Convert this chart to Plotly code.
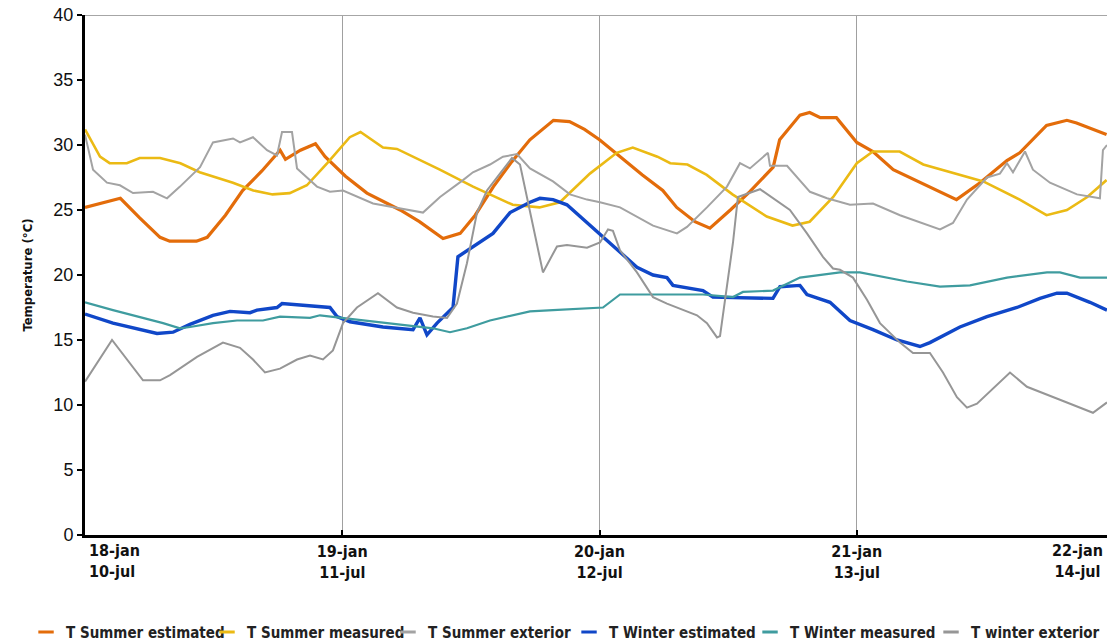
import plotly.graph_objects as go

# ---- data (hours since 18-jan / 10-jul 00:00, temperature in °C) ----
h_sum_est = [0, 1.4, 3.3, 5.1, 7.0, 7.9, 10.4, 11.4, 13.1, 14.7, 16.5, 18.2, 18.7, 20.1, 21.5,
             22.4, 24.3, 26.3, 29.4, 31.2, 33.4, 35.0, 36.4, 38.1, 39.8, 41.5, 43.7, 45.2, 46.6,
             48.0, 49.9, 52.0, 53.9, 55.2, 56.9, 58.3, 60.2, 62.0, 64.2, 64.8, 66.7, 67.6, 68.6,
             70.1, 72.0, 73.5, 75.4, 77.9, 79.8, 81.3, 83.5, 86.0, 87.2, 89.7, 91.6, 92.5, 95.3]
t_sum_est = [25.2, 25.5, 25.9, 24.4, 22.9, 22.6, 22.6, 22.9, 24.6, 26.5, 28.0, 29.6, 28.9, 29.6, 30.1,
             29.1, 27.6, 26.3, 25.0, 24.1, 22.8, 23.2, 24.6, 26.8, 28.7, 30.4, 31.9, 31.8, 31.2,
             30.4, 29.1, 27.7, 26.5, 25.2, 24.1, 23.6, 25.0, 26.4, 28.3, 30.4, 32.3, 32.5, 32.1,
             32.1, 30.2, 29.5, 28.1, 27.1, 26.4, 25.8, 27.1, 28.8, 29.4, 31.5, 31.9, 31.7, 30.8]

h_sum_meas = [0, 1.4, 2.3, 3.9, 5.1, 7.0, 8.9, 10.7, 13.8, 15.7, 17.5, 19.1, 20.7, 22.6, 24.7,
              25.7, 27.8, 29.1, 33.1, 36.2, 39.9, 42.4, 44.3, 47.1, 49.6, 51.1, 53.4, 54.6, 56.2,
              58.0, 60.4, 63.6, 66.0, 67.6, 69.8, 72.0, 73.5, 76.0, 78.2, 83.8, 87.2, 89.7, 91.6,
              93.5, 95.3]
t_sum_meas = [31.2, 29.1, 28.6, 28.6, 29.0, 29.0, 28.6, 27.9, 27.1, 26.5, 26.2, 26.3, 26.9, 28.6, 30.6,
              31.0, 29.8, 29.7, 28.1, 26.8, 25.4, 25.2, 25.6, 27.8, 29.4, 29.8, 29.1, 28.6, 28.5,
              27.7, 26.2, 24.5, 23.8, 24.1, 26.0, 28.6, 29.5, 29.5, 28.5, 27.2, 25.8, 24.6, 25.0,
              26.0, 27.3]

h_sum_ext = [0, 0.75, 2.05, 3.26, 4.48, 6.34, 7.65, 8.86, 10.73, 11.94, 13.81, 14.46, 15.67, 16.98,
             17.91, 18.38, 19.31, 19.78, 21.64, 22.85, 24.07, 25.65, 26.87, 31.53, 33.12, 35.26,
             36.19, 37.78, 38.99, 40.30, 41.51, 43.66, 45.24, 46.83, 48.04, 49.91, 52.99, 55.22,
             56.16, 58.02, 59.89, 61.10, 62.03, 63.71, 63.90, 65.49, 66.04, 67.63, 69.22, 71.36,
             73.51, 76.03, 79.76, 80.97, 82.28, 84.14, 85.35, 86.01, 86.57, 87.69, 88.43, 90.02,
             92.54, 94.68, 94.96, 95.34]
t_sum_ext = [30.8, 28.1, 27.1, 26.9, 26.3, 26.4, 25.9, 26.8, 28.3, 30.2, 30.5, 30.2, 30.6, 29.6,
             29.2, 31.0, 31.0, 28.2, 26.8, 26.4, 26.5, 25.9, 25.5, 24.8, 26.0, 27.3,
             27.9, 28.5, 29.1, 29.3, 28.2, 27.2, 26.2, 25.8, 25.6, 25.2, 23.8, 23.2,
             23.7, 25.2, 26.8, 28.6, 28.2, 29.4, 28.4, 28.4, 27.9, 26.4, 25.9, 25.4,
             25.5, 24.6, 23.5, 24.0, 25.8, 27.5, 27.8, 28.6, 27.9, 29.5, 28.1, 27.1,
             26.2, 25.9, 29.6, 30.0]

h_win_est = [0, 2.61, 6.72, 8.21, 9.79, 11.94, 13.53, 15.39, 16.04, 17.91, 18.38, 20.99, 22.85,
             23.51, 24.72, 27.80, 30.60, 31.25, 31.90, 32.84, 33.77, 34.33, 34.79, 36.19, 38.06,
             39.65, 41.51, 42.44, 43.66, 44.96, 46.83, 48.04, 49.91, 51.49, 52.99, 54.29, 54.85,
             57.65, 58.58, 62.03, 64.18, 64.83, 66.70, 67.35, 69.50, 71.36, 73.51, 75.75, 77.89,
             78.82, 80.41, 81.62, 84.14, 86.94, 89.09, 90.67, 91.60, 93.75, 95.34]
t_win_est = [17.0, 16.3, 15.5, 15.6, 16.2, 16.9, 17.2, 17.1, 17.3, 17.5, 17.8, 17.6, 17.5,
             16.8, 16.4, 16.0, 15.8, 16.7, 15.4, 16.3, 17.1, 17.5, 21.4, 22.2, 23.2,
             24.8, 25.6, 25.9, 25.8, 25.4, 24.0, 23.1, 21.7, 20.6, 20.0, 19.8, 19.2,
             18.8, 18.3, 18.2, 18.2, 19.1, 19.2, 18.5, 17.9, 16.5, 15.8, 15.0, 14.5,
             14.8, 15.5, 16.0, 16.8, 17.5, 18.2, 18.6, 18.6, 17.9, 17.3]

h_win_meas = [0, 2.61, 7.28, 8.86, 9.79, 11.94, 14.18, 16.60, 18.19, 20.99, 21.92, 24.07, 28.5,
              32.46, 34.05, 35.63, 37.78, 41.51, 43.66, 47.76, 48.32, 49.91, 52.99, 57.65, 60.45,
              61.38, 64.18, 66.70, 70.43, 72.29, 76.68, 79.76, 82.56, 86.01, 89.74, 90.95, 92.82,
              95.34]
t_win_meas = [17.9, 17.3, 16.3, 15.9, 16.0, 16.3, 16.5, 16.5, 16.8, 16.7, 16.9, 16.7, 16.3,
              15.9, 15.6, 15.9, 16.5, 17.2, 17.3, 17.5, 17.5, 18.5, 18.5, 18.5, 18.3,
              18.7, 18.8, 19.8, 20.2, 20.2, 19.5, 19.1, 19.2, 19.8, 20.2, 20.2, 19.8,
              19.8]

h_win_ext = [0, 2.52, 5.41, 7.00, 7.93, 10.45, 12.87, 14.46, 15.67, 16.79, 18.19, 19.78, 20.99,
             22.20, 23.13, 24.07, 25.37, 27.33, 29.10, 30.60, 32.46, 33.77, 34.70, 35.63, 36.57,
             37.50, 38.71, 39.83, 40.58, 41.51, 42.72, 44.03, 44.96, 46.83, 48.04, 48.79, 49.25,
             49.91, 51.49, 52.99, 54.29, 57.09, 58.02, 58.96, 59.24, 60.45, 60.91, 62.97, 65.76,
             67.35, 68.84, 69.78, 70.43, 71.64, 72.95, 74.16, 76.03, 77.24, 78.82, 80.04, 81.34,
             82.28, 83.21, 86.29, 87.87, 90.95, 94.03, 95.34]
t_win_ext = [11.8, 15.0, 11.9, 11.9, 12.3, 13.7, 14.8, 14.4, 13.5, 12.5, 12.8, 13.5, 13.8,
             13.5, 14.2, 16.3, 17.5, 18.6, 17.5, 17.1, 16.8, 16.7, 17.8, 20.9, 24.8,
             26.5, 27.8, 29.0, 28.5, 25.0, 20.2, 22.2, 22.3, 22.1, 22.5, 23.5, 23.4,
             21.9, 20.2, 18.3, 17.8, 16.9, 16.3, 15.2, 15.3, 22.5, 26.0, 26.6, 25.0,
             23.2, 21.4, 20.5, 20.4, 19.8, 18.1, 16.3, 14.8, 14.0, 14.0, 12.5, 10.6,
             9.8, 10.1, 12.5, 11.4, 10.4, 9.4, 10.2]

day_ticks = [24, 48, 72]
day_labels = ["19-jan<br>11-jul", "20-jan<br>12-jul", "21-jan<br>13-jul"]
first_label = "18-jan<br>10-jul"
last_label = "22-jan<br>14-jul"
x_end = 95.34

series = [
    ("T Summer estimated", h_sum_est, t_sum_est, "#E36C0A", 3.2),
    ("T Summer measured", h_sum_meas, t_sum_meas, "#EBBA14", 2.6),
    ("T Summer exterior", h_sum_ext, t_sum_ext, "#A3A3A3", 2.0),
    ("T Winter estimated", h_win_est, t_win_est, "#1047C8", 3.4),
    ("T Winter measured", h_win_meas, t_win_meas, "#3F9C9F", 2.2),
    ("T winter exterior", h_win_ext, t_win_ext, "#969696", 2.0),
]

NARROW = "Liberation Sans Narrow, Arial Narrow, DejaVu Sans Condensed, sans-serif"

fig = go.Figure()
for name, hx, ty, col, w in series:
    fig.add_trace(go.Scatter(x=hx, y=ty, mode="lines", name=name, showlegend=False,
                             line=dict(color=col, width=w), hoverinfo="skip"))
# legend entries with a short dash, as in the original chart
for name, hx, ty, col, w in series:
    fig.add_trace(go.Scatter(x=[None], y=[None], mode="markers", name="<b>" + name + "</b>",
                             marker=dict(symbol="line-ew", size=11, color=col,
                                         line=dict(color=col, width=3)),
                             hoverinfo="skip"))

fig.update_layout(
    width=1107, height=644,
    margin=dict(l=85, r=0, t=15, b=109, autoexpand=False),
    paper_bgcolor="white", plot_bgcolor="white",
    showlegend=True,
    legend=dict(orientation="h", x=-0.0577, y=-0.187, xanchor="left", yanchor="middle",
                entrywidth=136, entrywidthmode="pixels", itemwidth=30,
                font=dict(family=NARROW, size=15, color="#222")),
    xaxis=dict(range=[0, x_end], tickvals=day_ticks, ticktext=["<b>" + t + "</b>" for t in day_labels],
               showgrid=True, gridcolor="#A0A0A0", gridwidth=1.2,
               showline=True, linecolor="black", linewidth=3,
               ticks="inside", ticklen=5, tickwidth=2, tickcolor="black",
               tickfont=dict(family=NARROW, size=16, color="#111"), zeroline=False),
    yaxis=dict(range=[0, 40], tickvals=[0, 5, 10, 15, 20, 25, 30, 35, 40],
               showgrid=False, zeroline=False,
               showline=True, linecolor="black", linewidth=3,
               ticks="outside", ticklen=5, tickwidth=2, tickcolor="black",
               tickfont=dict(family="Liberation Sans, Arial, sans-serif", size=18, color="#111"),
               title=dict(text="<b>Temperature (°C)</b>", standoff=18,
                          font=dict(family=NARROW, size=13, color="#111"))),
    shapes=[dict(type="line", xref="paper", yref="y", x0=0, x1=1, y0=40, y1=40,
                 line=dict(color="#A6A6A6", width=2))],
    annotations=[
        dict(x=0, y=0, xref="x", yref="paper", text="<b>" + first_label + "</b>", showarrow=False,
             xanchor="left", yanchor="top", xshift=2, yshift=-4, align="left",
             font=dict(family=NARROW, size=16, color="#111")),
        dict(x=x_end, y=0, xref="x", yref="paper", text="<b>" + last_label + "</b>", showarrow=False,
             xanchor="right", yanchor="top", xshift=-2, yshift=-4, align="center",
             font=dict(family=NARROW, size=16, color="#111")),
    ],
)

fig.write_html("out.html", config={"displayModeBar": False},
               post_script="document.body.style.margin='0';document.body.style.overflow='hidden';")
